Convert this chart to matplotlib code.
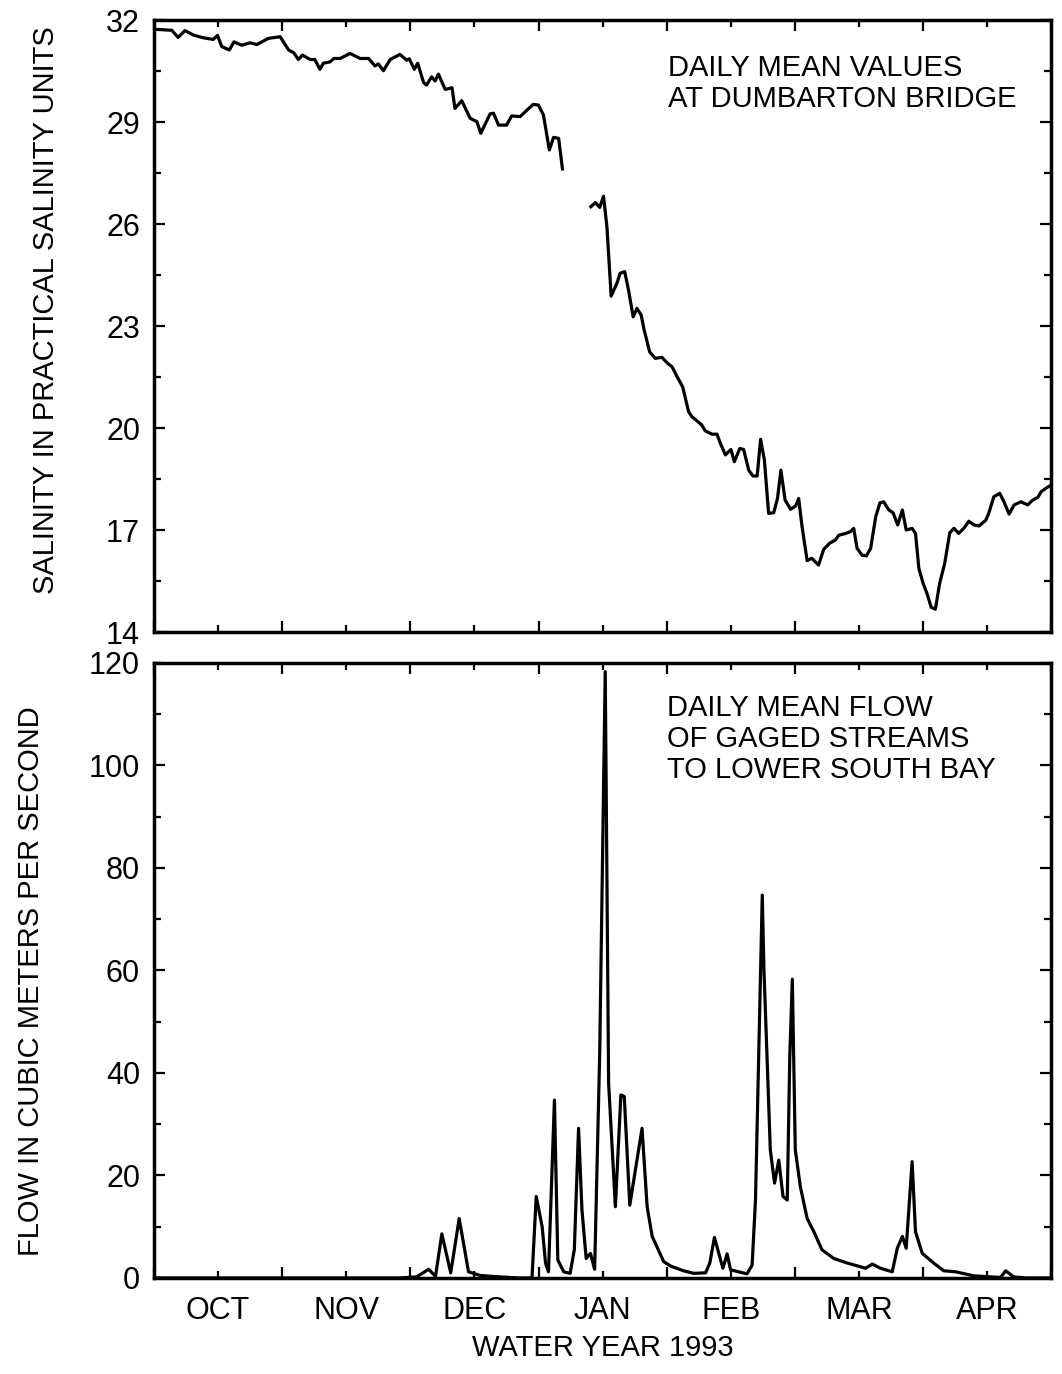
"""Daily mean salinity at Dumbarton Bridge and stream flow to lower South Bay, WY 1993."""

import numpy as np
import matplotlib
matplotlib.use('Agg')
import matplotlib.pyplot as plt
from matplotlib.ticker import FixedLocator

plt.rcParams['font.family'] = ['Liberation Sans', 'DejaVu Sans']
fs = 21

# Days since 1 Oct 1992, and values
months = ['OCT', 'NOV', 'DEC', 'JAN', 'FEB', 'MAR', 'APR']
n_days = 212

sal_day = [0.0, 4.2, 5.7, 7.3, 9.3, 11.6, 14.0, 15.0, 16.0, 17.8, 18.9, 20.7, 22.7, 24.3,
           27.0, 29.8, 31.8, 33.0, 34.1, 35.1, 36.9, 38.0, 39.2, 40.0, 41.6, 42.5, 44.0,
           46.3, 48.7, 50.7, 52.2, 53.0, 54.2, 55.8, 58.1, 59.7, 60.3, 61.5, 62.3, 63.7,
           64.4, 65.6, 66.4, 67.2, 68.8, 70.4, 71.1, 72.7, 74.7, 76.3, 77.2, 79.4, 80.2,
           81.4, 83.3, 84.5, 86.5, 88.1, 89.6, 90.8, 92.0, 93.4, 94.4, 95.6, 96.5,
           100.0,
           103.2, 104.3, 105.3, 106.2, 107.0, 108.0, 109.4, 110.1, 111.2, 112.1, 113.2,
           114.1, 115.1, 115.8, 117.1, 118.4, 120.0, 121.2, 122.4, 123.5, 124.9, 126.3,
           127.1, 128.3, 129.4, 130.2, 131.8, 133.0, 133.8, 135.0, 136.3, 137.1, 138.4,
           139.3, 140.5, 141.5, 142.5, 143.3, 144.2, 145.2, 146.4, 147.3, 148.1, 149.1,
           150.4, 151.6, 152.3, 153.1, 154.3, 155.4, 157.0, 158.2, 159.6, 161.0, 161.8,
           163.4, 164.5, 165.3, 166.1, 167.3, 168.3, 169.3, 170.5, 171.5, 172.4, 173.6,
           174.6, 175.7, 176.8, 177.7, 179.1, 179.9, 180.7, 181.7, 182.6, 183.6, 184.6,
           185.6, 186.8, 188.0, 189.0, 190.1, 191.3, 192.5, 193.7, 194.9, 196.5, 197.2,
           198.4, 199.8, 200.8, 202.0, 203.2, 204.8, 206.4, 207.6, 208.8, 209.6, 211.2,
           212.0]
salinity = [31.73, 31.70, 31.49, 31.69, 31.56, 31.48, 31.43, 31.55, 31.22, 31.12, 31.36,
            31.26, 31.33, 31.28, 31.46, 31.51, 31.12, 31.04, 30.84, 30.97, 30.84, 30.84,
            30.55, 30.73, 30.77, 30.87, 30.87, 31.02, 30.87, 30.87, 30.65, 30.71, 30.51,
            30.84, 30.99, 30.82, 30.86, 30.55, 30.73, 30.16, 30.09, 30.33, 30.21, 30.41,
            29.96, 30.01, 29.40, 29.63, 29.11, 29.01, 28.67, 29.24, 29.26, 28.91, 28.91,
            29.18, 29.16, 29.35, 29.52, 29.50, 29.21, 28.18, 28.55, 28.52, 27.62,
            np.nan,
            26.51, 26.63, 26.49, 26.82, 25.92, 23.88, 24.27, 24.55, 24.60, 24.06, 23.27,
            23.52, 23.32, 22.88, 22.24, 22.05, 22.08, 21.92, 21.80, 21.53, 21.21, 20.48,
            20.33, 20.21, 20.09, 19.92, 19.82, 19.82, 19.55, 19.21, 19.37, 19.01, 19.40,
            19.37, 18.76, 18.59, 18.59, 19.67, 19.06, 17.49, 17.51, 17.93, 18.76, 17.88,
            17.61, 17.71, 17.93, 17.10, 16.10, 16.17, 15.97, 16.43, 16.61, 16.71, 16.85,
            16.90, 16.95, 17.05, 16.46, 16.26, 16.24, 16.46, 17.39, 17.80, 17.83, 17.59,
            17.51, 17.15, 17.59, 17.00, 17.05, 16.90, 15.87, 15.43, 15.14, 14.73, 14.67,
            15.43, 16.02, 16.92, 17.05, 16.90, 17.05, 17.26, 17.15, 17.12, 17.29, 17.49,
            17.98, 18.08, 17.83, 17.47, 17.74, 17.83, 17.74, 17.88, 17.96, 18.13, 18.27,
            18.32]

flow_day = [0.0, 58.0, 62.0, 64.9, 66.5, 68.0, 70.1, 72.1, 74.3, 77.0, 80.0, 86.0, 89.3,
            90.3, 91.7, 92.5, 93.2, 94.6, 95.4, 96.8, 98.3, 99.3, 100.3, 101.1, 102.1,
            103.1, 104.1, 105.3, 106.6, 107.4, 109.0, 110.3, 111.1, 112.4, 115.3, 116.5,
            117.7, 120.4, 122.1, 125.1, 127.5, 130.3, 131.3, 132.4, 134.4, 135.4, 136.2,
            140.1, 141.3, 142.1, 143.7, 144.1, 145.6, 146.6, 147.6, 148.6, 149.6, 150.2,
            150.8, 151.5, 152.7, 154.3, 155.9, 157.8, 160.6, 163.8, 168.1, 169.7, 171.6,
            174.4, 175.6, 176.8, 177.7, 179.1, 179.9, 181.5, 184.2, 186.6, 189.4, 193.7,
            200.0, 201.2, 203.1, 206.0, 212.0]
flow = [0.0, 0.0, 0.2, 1.7, 0.3, 8.6, 1.0, 11.6, 1.2, 0.5, 0.3, 0.0, 0.0,
        15.9, 10.0, 2.9, 1.2, 34.7, 3.5, 1.2, 0.9, 5.5, 29.2, 13.3, 3.8,
        4.8, 1.7, 44.0, 118.3, 38.0, 13.9, 35.7, 35.4, 14.2, 29.2, 13.9,
        8.1, 3.2, 2.3, 1.4, 0.9, 1.0, 2.9, 7.9, 1.9, 4.7, 1.6,
        0.8, 2.5, 15.2, 74.7, 60.1, 25.0, 18.5, 23.0, 15.9, 15.2, 43.2,
        58.3, 25.0, 17.8, 11.6, 9.0, 5.5, 3.8, 2.9, 1.9, 2.7, 1.9,
        1.2, 5.8, 8.1, 5.8, 22.7, 9.0, 4.8, 2.9, 1.4, 1.2, 0.4,
        0.1, 1.4, 0.2, 0.0, 0.0]

sal_ticks = [14, 17, 20, 23, 26, 29, 32]
flow_ticks = [0, 20, 40, 60, 80, 100, 120]


def style_axis(ax, yticks):
    """Box frame with inward ticks on all four sides and equal-width months"""
    for side in ax.spines.values():
        side.set_linewidth(2.5)
    month_w = n_days / len(months)
    edges = np.arange(len(months) + 1) * month_w
    ax.set_xlim(0, n_days)
    ax.set_xticks(edges)
    ax.set_xticklabels([])
    ax.set_xticks(edges[:-1] + month_w / 2, minor=True)
    ax.set_ylim(yticks[0], yticks[-1])
    ax.set_yticks(yticks)
    step = (yticks[1] - yticks[0]) / 2
    ax.yaxis.set_minor_locator(FixedLocator(np.arange(yticks[0], yticks[-1] + step / 2, step)))
    ax.tick_params(which='both', direction='in', top=True, right=True,
                   width=1.6, labelsize=fs + 1, pad=10)
    ax.tick_params(which='major', length=8)
    ax.tick_params(which='minor', length=5)


fig = plt.figure(figsize=(10.62, 13.74), dpi=100)

# Salinity panel
ax1 = fig.add_axes([0.145, 0.54, 0.845, 0.4454])
ax1.plot(sal_day, salinity, color='black', lw=2.3)
style_axis(ax1, sal_ticks)
ax1.set_xticklabels([], minor=True)
ax1.set_ylabel('SALINITY IN PRACTICAL SALINITY UNITS', fontsize=fs)
ax1.yaxis.set_label_coords(-0.105, 0.526)
ax1.text(0.573, 0.945, 'DAILY MEAN VALUES\nAT DUMBARTON BRIDGE', transform=ax1.transAxes,
         fontsize=fs, va='top', ha='left', linespacing=1.15)

# Flow panel
ax2 = fig.add_axes([0.145, 0.0699, 0.845, 0.4476])
ax2.plot(flow_day, flow, color='black', lw=2.3)
style_axis(ax2, flow_ticks)
ax2.set_xticklabels(months, minor=True)
ax2.tick_params(axis='x', which='minor', pad=13)
ax2.set_xlabel('WATER YEAR 1993', fontsize=fs, labelpad=6)
ax2.set_ylabel('FLOW IN CUBIC METERS PER SECOND', fontsize=fs)
ax2.yaxis.set_label_coords(-0.121, 0.483)
ax2.text(0.572, 0.95, 'DAILY MEAN FLOW\nOF GAGED STREAMS\nTO LOWER SOUTH BAY',
         transform=ax2.transAxes, fontsize=fs, va='top', ha='left', linespacing=1.15)

fig.savefig('out.png', dpi=100)
